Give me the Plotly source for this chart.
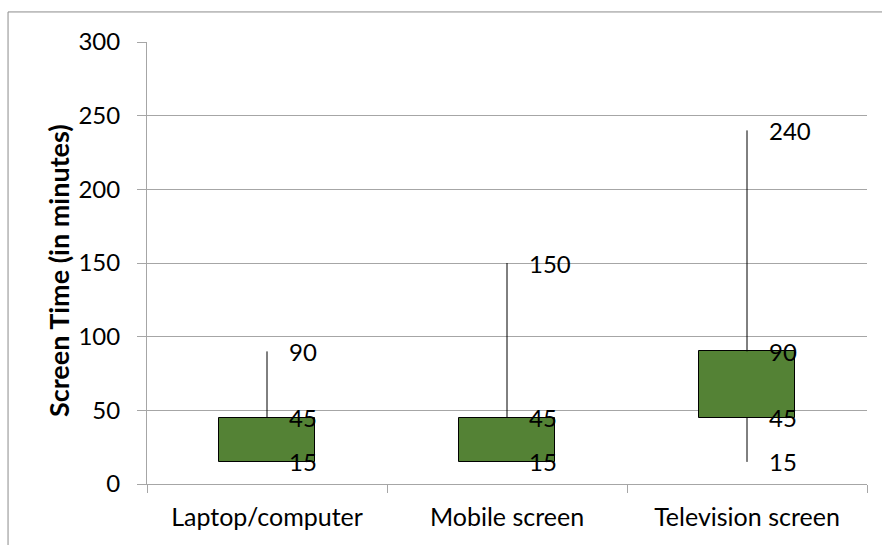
import plotly.graph_objects as go

categories = ["Laptop/computer", "Mobile screen", "Television screen"]
low_vals = [15, 15, 15]
open_vals = [15, 15, 45]
close_vals = [45, 45, 90]
high_vals = [90, 150, 240]
y_ticks = [0, 50, 100, 150, 200, 250, 300]
y_title = "Screen Time (in minutes)"

FONT = "Lato"
fig = go.Figure()

# high-low lines (drawn outside the boxes)
for c, lo, op, cl, hi in zip(categories, low_vals, open_vals, close_vals, high_vals):
    fig.add_trace(go.Scatter(x=[c, c, None, c, c], y=[lo, op, None, cl, hi],
                             mode="lines", connectgaps=False,
                             line=dict(color="black", width=1),
                             showlegend=False, hoverinfo="skip"))

# boxes (open-close)
fig.add_trace(go.Bar(x=categories,
                     y=[c - o for o, c in zip(open_vals, close_vals)],
                     base=open_vals, width=0.4,
                     marker=dict(color="#548235", line=dict(color="black", width=1)),
                     showlegend=False, hoverinfo="skip"))

# value labels
for c, lo, op, cl, hi in zip(categories, low_vals, open_vals, close_vals, high_vals):
    for v in sorted(set([lo, op, cl, hi])):
        fig.add_annotation(x=c, y=v, text=str(v), showarrow=False,
                           xanchor="left", yanchor="middle", xshift=20,
                           font=dict(family=FONT, size=24, color="black"))

# y-axis title
fig.add_annotation(xref="paper", yref="paper", x=-0.122, y=0.482,
                   text="<b>" + y_title + "</b>", textangle=-90, showarrow=False,
                   xanchor="center", yanchor="middle",
                   font=dict(family=FONT, size=27, color="black"))

fig.update_layout(
    width=882, height=545,
    margin=dict(l=147, r=15, t=42, b=61),
    plot_bgcolor="white", paper_bgcolor="white",
    font=dict(family=FONT, size=24, color="black"),
    bargap=0,
    shapes=[dict(type="line", xref="paper", yref="paper",
                 x0=-0.193, x1=1.03, y0=1.068, y1=1.068,
                 line=dict(color="#8c8c8c", width=1)),
            dict(type="line", xref="paper", yref="paper",
                 x0=-0.193, x1=-0.193, y0=1.068, y1=-0.2,
                 line=dict(color="#8c8c8c", width=1))],
)
fig.update_xaxes(type="category", showgrid=False, showline=True,
                 linecolor="#a6a6a6", linewidth=1,
                 ticks="outside", tickson="boundaries", ticklen=8,
                 tickcolor="#a6a6a6", ticklabelstandoff=11,
                 tickfont=dict(size=25),
                 range=[-0.5, 2.5])
fig.update_yaxes(range=[0, 300], tickvals=y_ticks, showgrid=True,
                 gridcolor="#a6a6a6", gridwidth=1, showline=True,
                 linecolor="#a6a6a6", ticks="outside", ticklen=9,
                 tickcolor="#a6a6a6", ticklabelstandoff=12, zeroline=False)

fig.write_html("out.html")
